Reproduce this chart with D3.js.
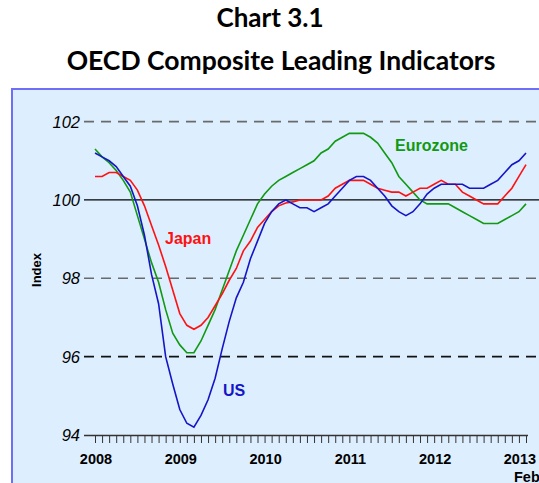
<!DOCTYPE html>
<html>
<head>
<meta charset="utf-8">
<script src="https://cdn.jsdelivr.net/npm/d3@7"></script>
<style>
  body { margin: 0; background: #fff; }
  svg { display: block; }
</style>
</head>
<body>
<div id="chart"></div>
<script>
// monthly values, Jan 2008 .. Feb 2013
var us = [101.2,101.1,101.0,100.85,100.6,100.35,99.85,99.1,98.1,97.35,96.0,95.3,
  94.65,94.3,94.2,94.5,94.9,95.45,96.2,96.9,97.5,97.9,98.5,98.95,
  99.4,99.7,99.9,100.0,99.9,99.8,99.8,99.7,99.8,99.9,100.1,100.3,
  100.5,100.6,100.6,100.5,100.3,100.1,99.85,99.7,99.6,99.7,99.9,100.15,
  100.3,100.4,100.4,100.4,100.4,100.3,100.3,100.3,100.4,100.5,100.7,100.9,
  101.0,101.2];
var japan = [100.6,100.6,100.7,100.7,100.6,100.5,100.25,99.85,99.35,98.85,98.3,97.7,
  97.1,96.8,96.7,96.8,97.0,97.3,97.6,97.95,98.25,98.7,98.95,99.3,
  99.5,99.7,99.85,99.92,99.95,100.0,100.0,100.0,100.0,100.1,100.3,100.4,
  100.5,100.5,100.5,100.4,100.3,100.25,100.2,100.2,100.1,100.2,100.3,100.3,
  100.4,100.5,100.4,100.4,100.2,100.1,100.0,99.9,99.9,99.9,100.1,100.3,
  100.6,100.9];
var eurozone = [101.3,101.1,100.95,100.75,100.5,100.2,99.6,99.0,98.4,97.9,97.2,96.6,
  96.3,96.1,96.1,96.4,96.8,97.2,97.7,98.2,98.7,99.1,99.5,99.9,
  100.15,100.35,100.5,100.6,100.7,100.8,100.9,101.0,101.2,101.3,101.5,101.6,
  101.7,101.7,101.7,101.6,101.45,101.2,100.95,100.6,100.4,100.2,100.0,99.9,
  99.9,99.9,99.9,99.8,99.7,99.6,99.5,99.4,99.4,99.4,99.5,99.6,
  99.7,99.9];
var years = ["2008","2009","2010","2011","2012","2013"];
var yTicks = [94, 96, 98, 100, 102];

var width = 539, height = 483;

var svg = d3.select('#chart')
  .append('svg')
  .attr('width', width)
  .attr('height', height);

// title
svg.append('text')
  .attr('x', 270).attr('y', 27)
  .attr('text-anchor', 'middle')
  .style('font-family', 'Lato, sans-serif')
  .style('font-weight', 'bold')
  .style('font-size', '26px')
  .text('Chart 3.1');
svg.append('text')
  .attr('x', 281).attr('y', 70)
  .attr('text-anchor', 'middle')
  .style('font-family', 'Lato, sans-serif')
  .style('font-weight', 'bold')
  .style('font-size', '26.5px')
  .text('OECD Composite Leading Indicators');

// panel
svg.append('rect')
  .attr('x', 12).attr('y', 89)
  .attr('width', 540).attr('height', 420)
  .attr('fill', '#ddeefe')
  .attr('stroke', '#6f6ff5')
  .attr('stroke-width', 2);

var x = d3.scaleLinear().domain([0, 61]).range([95, 526]);
var y = d3.scaleLinear().domain([94, 102]).range([435, 121.6]);

var font = '"Liberation Sans", Arial, sans-serif';

// horizontal grid lines
yTicks.filter(d => d > 94).forEach(function (t) {
  svg.append('line')
    .attr('x1', 84).attr('x2', 539)
    .attr('y1', y(t)).attr('y2', y(t))
    .attr('stroke', t == 100 ? '#000' : (t == 96 ? '#111' : '#6a6a6a'))
    .attr('stroke-width', t == 100 ? 1.3 : 1.6)
    .attr('stroke-dasharray', t == 100 ? null : '10,7');
});

// y labels
svg.selectAll('.ylab')
  .data(yTicks)
  .enter()
  .append('text')
  .attr('class', 'ylab')
  .attr('x', 80)
  .attr('y', d => y(d) + 6)
  .attr('text-anchor', 'end')
  .style('font-family', font)
  .style('font-style', 'italic')
  .style('font-size', '16.5px')
  .text(d => d);

svg.append('text')
  .attr('transform', 'translate(41,270) rotate(-90)')
  .attr('text-anchor', 'middle')
  .style('font-family', font)
  .style('font-weight', 'bold')
  .style('font-size', '13px')
  .text('Index');

// x axis
var xAxis = d3.axisBottom(x)
  .tickValues(d3.range(0, 62))
  .tickSize(8)
  .tickSizeOuter(0)
  .tickFormat('');
var gx = svg.append('g')
  .attr('transform', 'translate(0,435)')
  .call(xAxis);
gx.select('.domain').attr('d', 'M84,0.5H528').attr('stroke', '#333').attr('stroke-width', 1.5);
gx.selectAll('.tick line').attr('stroke', '#333');

svg.selectAll('.xlab')
  .data(years)
  .enter()
  .append('text')
  .attr('class', 'xlab')
  .attr('x', (d, i) => x(i * 12) + 1)
  .attr('y', 464)
  .attr('text-anchor', 'middle')
  .style('font-family', font)
  .style('font-weight', 'bold')
  .style('font-size', '14.5px')
  .text(d => d);
svg.append('text')
  .attr('x', 514).attr('y', 482)
  .style('font-family', font)
  .style('font-weight', 'bold')
  .style('font-size', '14.5px')
  .text('Feb');

// lines
var line = d3.line()
  .x((d, i) => x(i))
  .y(d => y(d));

var series = [
  { name: 'Eurozone', values: eurozone, color: '#119911' },
  { name: 'Japan', values: japan, color: '#ff1111' },
  { name: 'US', values: us, color: '#1515c8' }
];

series.forEach(function (s) {
  svg.append('path')
    .datum(s.values)
    .attr('fill', 'none')
    .attr('stroke', s.color)
    .attr('stroke-width', 1.6)
    .attr('d', line);
});

// series labels
var labels = [
  { text: 'Eurozone', x: 395, y: 151, color: '#119911' },
  { text: 'Japan', x: 165, y: 244, color: '#ff1111' },
  { text: 'US', x: 223, y: 396, color: '#1515c8' }
];
labels.forEach(function (l) {
  svg.append('text')
    .attr('x', l.x).attr('y', l.y)
    .attr('fill', l.color)
    .style('font-family', font)
    .style('font-weight', 'bold')
    .style('font-size', '16px')
    .text(l.text);
});
</script>
</body>
</html>
